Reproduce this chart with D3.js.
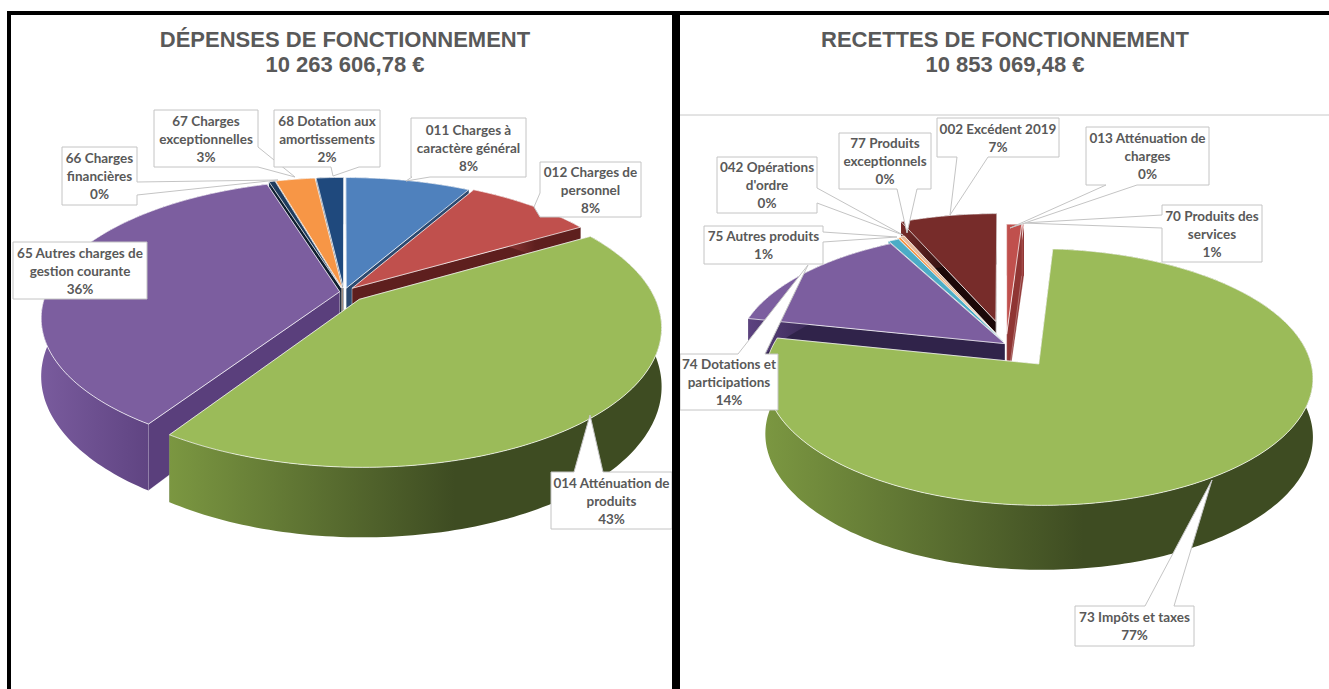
<!DOCTYPE html>
<html>
  <head>
    <meta charset="utf-8">
    <script src="https://d3js.org/d3.v7.min.js"></script>
    <style>
      body { margin:0; background:#fff; }
      svg { display:block; }
      .title { font: bold 22px "Liberation Sans", Arial, sans-serif; fill:#595959; text-anchor:middle; }
      .lbl { font: bold 13.5px Lato, "Open Sans", sans-serif; fill:#595959; text-anchor:middle; }
    </style>
  </head>
  <body>
    <script>
      const width = 1329;
      const height = 689;

      // left chart
      const depTitle = ["DÉPENSES DE FONCTIONNEMENT", "10 263 606,78 €"];
      const depLabels = ["011 Charges à|caractère général", "012 Charges de|personnel", "014 Atténuation de|produits",
        "65 Autres charges de|gestion courante", "66 Charges|financières", "67 Charges|exceptionnelles", "68 Dotation aux|amortissements"];
      const depValues = [8.2, 8.4, 42.9, 36.2, 0.4, 2.6, 1.8];

      // right chart
      const recTitle = ["RECETTES DE FONCTIONNEMENT", "10 853 069,48 €"];
      const recLabels = ["70 Produits des|services", "013 Atténuation de|charges", "73 Impôts et taxes", "74 Dotations et|participations",
        "75 Autres produits", "042 Opérations|d'ordre", "77 Produits|exceptionnels", "002 Excédent 2019"];
      const recValues = [1.0, 0.1, 77.4, 14.0, 0.7, 0.2, 0.3, 6.5];

      const pct = v => d3.format(".0f")(v) + "%";

      const depStyle = {
        top:  ["#4f81bd", "#c0504d", "#9bbb59", "#7c5e9f", "#1f3c5e", "#f79646", "#1f497d"],
        cut:  ["#2c4a70", "#5e1f1e", "#3e4c22", "#5a3f7c", "#101f30", "#a5602a", "#132c4d"],
        wall: [["#4f81bd", "#2c4a70"], ["#c0504d", "#5e1f1e"], ["#7b9741", "#3e4c22"], ["#795b9d", "#5a3f7c"],
               ["#1f3c5e", "#101f30"], ["#f79646", "#a5602a"], ["#1f497d", "#132c4d"]],
        explode: [0.03, 0.04, 0.075, 0.015, 0.03, 0.03, 0.03],
        order: [6, 5, 4, 0, 1, 3, 2]
      };
      const recStyle = {
        top:  ["#c0504d", "#d0605d", "#9bbb59", "#7c5e9f", "#4bacc6", "#f79646", "#e6b89a", "#772c2a"],
        cut:  ["#8f3533", "#8f3533", "#3e4c22", "#30234a", "#2a6f82", "#a5602a", "#a5806a", "#1c0808"],
        wall: [["#a83f3d", "#8f3533"], ["#a83f3d", "#8f3533"], ["#7b9741", "#3e4c22"], ["#5c4280", "#30234a"],
               ["#4bacc6", "#2a6f82"], ["#f79646", "#a5602a"], ["#e6b89a", "#a5806a"], ["#772c2a", "#1c0808"]],
        explode: [0.08, 0.08, 0.2, 0.005, 0.03, 0.04, 0.05, 0.19],
        order: [7, 6, 5, 4, 1, 0, 3, 2]
      };

      // callout boxes: x, y, w, h, side, base a, base b, tip x, tip y
      const depBoxes = [
        [411, 118, 115, 59, "b", 412, 430, 406, 181],
        [540, 162, 101, 55, "l", 193, 217, 534, 207],
        [551, 472, 121, 57, "t", 574, 603, 590, 415],
        [13, 242, 134, 57, null],
        [62, 147, 75, 58, "r", 182, 195, 278, 180],
        [154, 110, 104, 57, "r", 147, 167, 295, 177],
        [274, 110, 106, 57, "b", 331, 359, 333, 176]
      ];
      const recBoxes = [
        [1162, 205, 100, 57, "l", 215, 228, 1023, 223],
        [1086, 127, 123, 58, "b", 1106, 1137, 1010, 228],
        [1075, 606, 119, 40, "t", 1145, 1174, 1212, 480],
        [680, 354, 98, 56, "t", 738, 765, 808, 265],
        [704, 226, 119, 38, "r", 232, 242, 897, 237],
        [717, 157, 100, 56, "r", 188, 203, 903, 235],
        [839, 133, 92, 56, "b", 897, 917, 907, 233],
        [937, 118, 122, 39, "b", 957, 988, 950, 215]
      ];

      const svg = d3.select("body").append("svg")
        .attr("width", width)
        .attr("height", height);
      const defs = svg.append("defs");

      function calloutPath(b) {
        const [x, y, w, h, side, a, c, tx, ty] = b;
        const p = [[x, y]];
        if (side === "t") p.push([a, y], [tx, ty], [c, y]);
        p.push([x + w, y]);
        if (side === "r") p.push([x + w, a], [tx, ty], [x + w, c]);
        p.push([x + w, y + h]);
        if (side === "b") p.push([c, y + h], [tx, ty], [a, y + h]);
        p.push([x, y + h]);
        if (side === "l") p.push([x, c], [tx, ty], [x, a]);
        return d3.line()(p) + "Z";
      }

      function drawPie(id, conf) {
        const g = svg.append("g");
        const arcs = d3.pie().sort(null)(conf.values);

        // flat disc -> screen, with some perspective
        const project = (u, v, z) => {
          const s = 1 / (1 - conf.persp * v);
          return [conf.cx + conf.r * u * s, conf.cy + conf.k * v * s + z * s];
        };
        const line = d3.line();

        conf.style.order.forEach(i => {
          const d = arcs[i];
          const mid = (d.startAngle + d.endAngle) / 2;
          const e = conf.style.explode[i];
          const ox = e * Math.sin(mid), oy = -e * Math.cos(mid);
          const n = Math.max(2, Math.ceil((d.endAngle - d.startAngle) / 0.02));
          const angles = d3.range(n + 1).map(t => d.startAngle + (d.endAngle - d.startAngle) * t / n);
          const rim = z => angles.map(a => project(ox + Math.sin(a), oy - Math.cos(a), z));
          const apex = z => project(ox, oy, z);

          const topRim = rim(0);
          const lowRim = rim(conf.depth);

          const xs = d3.extent(topRim, p => p[0]);
          const gradId = id + "-wall-" + i;
          const grad = defs.append("linearGradient").attr("id", gradId)
            .attr("gradientUnits", "userSpaceOnUse")
            .attr("x1", xs[0]).attr("x2", xs[1]).attr("y1", 0).attr("y2", 0);
          const [light, dark] = conf.style.wall[i];
          grad.append("stop").attr("offset", 0).attr("stop-color", light);
          grad.append("stop").attr("offset", 0.58).attr("stop-color", dark);
          grad.append("stop").attr("offset", 1).attr("stop-color", dark);

          const cutFace = j => g.append("path")
            .attr("d", line([apex(0), topRim[j], lowRim[j], apex(conf.depth)]) + "Z")
            .attr("fill", conf.style.cut[i])
            .attr("stroke", "#fff").attr("stroke-width", 0.5).attr("stroke-opacity", 0.6);

          // rear cut face first, then the front one, then the outer wall
          const [rear, front] = topRim[0][1] < topRim[n][1] ? [0, n] : [n, 0];
          cutFace(rear);
          cutFace(front);
          g.append("path")
            .attr("d", line(topRim.concat(lowRim.slice().reverse())) + "Z")
            .attr("fill", `url(#${gradId})`);

          // top face
          g.append("path")
            .attr("d", line([apex(0)].concat(topRim)) + "Z")
            .attr("fill", conf.style.top[i])
            .attr("stroke", "#fff").attr("stroke-width", 0.9).attr("stroke-opacity", 0.8);
        });

        // callouts
        const boxes = svg.append("g").selectAll("g").data(conf.boxes).join("g");
        boxes.append("path")
          .attr("d", calloutPath)
          .attr("fill", "#fff").attr("stroke", "#c4c4c4").attr("stroke-width", 1);
        boxes.each(function(b, i) {
          const lines = conf.labels[i].split("|").concat(pct(conf.values[i]));
          const cx = b[0] + b[2] / 2;
          const top = b[1] + (b[3] - lines.length * 18) / 2 + 14;
          d3.select(this).selectAll("text").data(lines).join("text")
            .attr("class", "lbl")
            .attr("x", cx)
            .attr("y", (t, j) => top + j * 18)
            .text(t => t);
        });

        // titles
        svg.append("text").attr("class", "title").attr("x", conf.titleX).attr("y", 47).text(conf.title[0]);
        svg.append("text").attr("class", "title").attr("x", conf.titleX).attr("y", 72).text(conf.title[1]);
      }

      // thin rule under the right title sits behind the pie
      svg.append("line").attr("x1", 680).attr("x2", width).attr("y1", 115).attr("y2", 115)
        .attr("stroke", "#c8c8c8").attr("stroke-width", 1);

      drawPie("dep", {
        values: depValues, labels: depLabels, title: depTitle, style: depStyle, boxes: depBoxes,
        cx: 344, cy: 292, r: 293, k: 133, persp: 0.19, depth: 56, titleX: 345
      });
      drawPie("rec", {
        values: recValues, labels: recLabels, title: recTitle, style: recStyle, boxes: recBoxes,
        cx: 1006, cy: 344, r: 268, k: 123, persp: 0.1, depth: 57, titleX: 1005
      });

      // black frame
      const frame = svg.append("g").attr("fill", "#000");
      frame.append("rect").attr("x", 7).attr("y", 11).attr("width", width - 7).attr("height", 4);
      frame.append("rect").attr("x", 7).attr("y", 11).attr("width", 4).attr("height", height - 11);
      frame.append("rect").attr("x", 672).attr("y", 11).attr("width", 8).attr("height", height - 11);
    </script>
  </body>
</html>
